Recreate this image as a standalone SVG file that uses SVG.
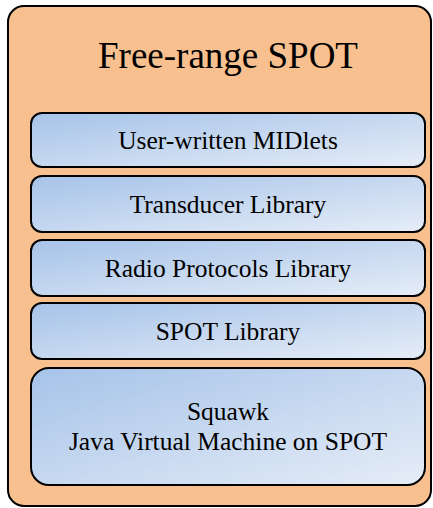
<svg xmlns="http://www.w3.org/2000/svg" width="433" height="508" viewBox="0 0 433 508">
<defs>
<linearGradient id="blue" x1="0" y1="0" x2="1" y2="1">
<stop offset="0" stop-color="#a6c3e9"/>
<stop offset="1" stop-color="#e6edf7"/>
</linearGradient>
<style>
.layer{fill:url(#blue);stroke:#000;stroke-width:2}
text{font-family:'Liberation Serif','Times New Roman',serif;fill:#000;text-anchor:middle}
.t{font-size:25.5px}
.title{font-size:37px}
</style>
</defs>
<g id="free-range-spot">
<rect x="8" y="6" width="423" height="500" rx="16" fill="#f8bf8f" stroke="#000" stroke-width="2"/>
<text class="title" x="228" y="68">Free-range SPOT</text>
</g>
<g id="midlets">
<rect class="layer" x="31" y="113" width="394" height="54" rx="11"/>
<text class="t" x="228" y="149">User-written MIDlets</text>
</g>
<g id="transducer">
<rect class="layer" x="31" y="176" width="394" height="56" rx="11"/>
<text class="t" x="228" y="213">Transducer Library</text>
</g>
<g id="radio">
<rect class="layer" x="31" y="240" width="394" height="56" rx="11"/>
<text class="t" x="228" y="277">Radio Protocols Library</text>
</g>
<g id="spotlib">
<rect class="layer" x="31" y="303" width="394" height="56" rx="11"/>
<text class="t" x="228" y="340">SPOT Library</text>
</g>
<g id="squawk">
<rect class="layer" x="31" y="368" width="394" height="117" rx="18"/>
<text class="t" x="228" y="420">Squawk</text>
<text class="t" x="228" y="450">Java Virtual Machine on SPOT</text>
</g>
<g id="connectors"/>
</svg>
